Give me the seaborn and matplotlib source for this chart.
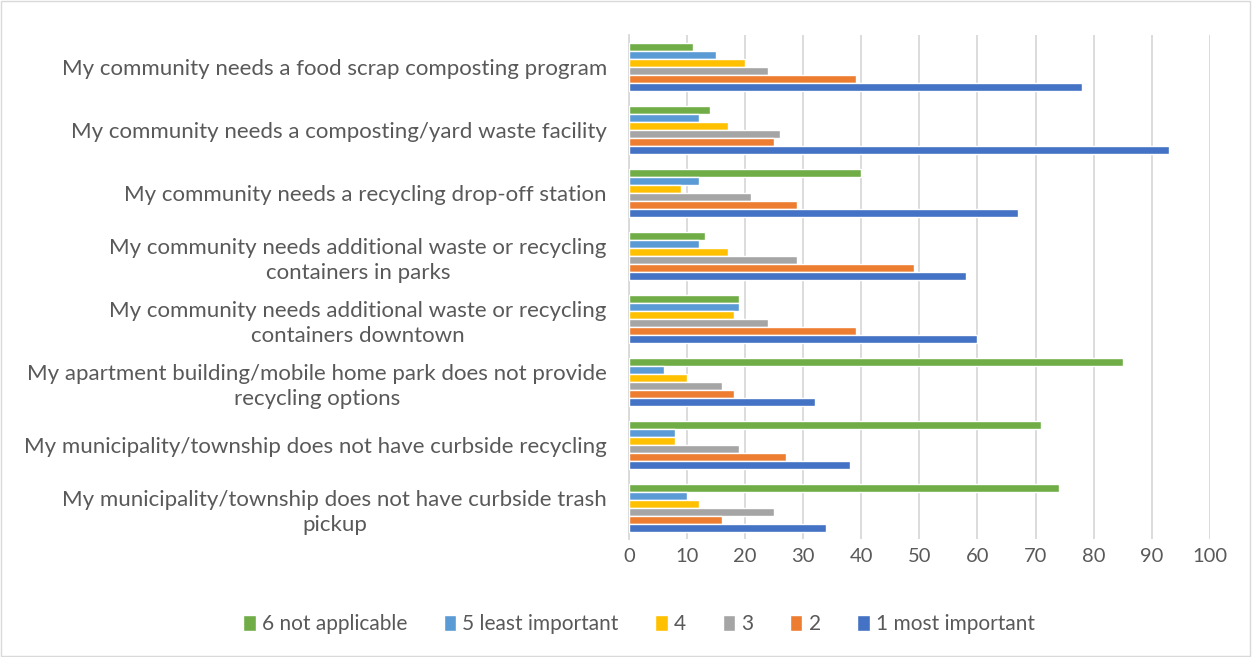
import pandas as pd, numpy as np, matplotlib
matplotlib.use('Agg')
import matplotlib.pyplot as plt
import seaborn as sns

categories = ['My community needs a food scrap composting program',
              'My community needs a composting/yard waste facility',
              'My community needs a recycling drop-off station',
              'My community needs additional waste or recycling\ncontainers in parks',
              'My community needs additional waste or recycling\ncontainers downtown',
              'My apartment building/mobile home park does not provide\nrecycling options',
              'My municipality/township does not have curbside recycling',
              'My municipality/township does not have curbside trash\npickup']
series = ['6 not applicable', '5 least important', '4', '3', '2', '1 most important']
v6 = [11, 14, 40, 13, 19, 85, 71, 74]
v5 = [15, 12, 12, 12, 19, 6, 8, 10]
v4 = [20, 17, 9, 17, 18, 10, 8, 12]
v3 = [24, 26, 21, 29, 24, 16, 19, 25]
v2 = [39, 25, 29, 49, 39, 18, 27, 16]
v1 = [78, 93, 67, 58, 60, 32, 38, 34]
colors = ['#70AD47', '#5B9BD5', '#FFC000', '#A5A5A5', '#ED7D31', '#4472C4']

rows = []
for s, vals in zip(series, [v6, v5, v4, v3, v2, v1]):
    for c, v in zip(categories, vals):
        rows.append((c, s, v))
df = pd.DataFrame(rows, columns=['cat', 'series', 'value'])

sns.set_theme(style='white')
plt.rcParams['font.family'] = ['Lato', 'DejaVu Sans']
txt = '#595959'

fig = plt.figure(figsize=(12.53, 6.57), dpi=100)
ax = fig.add_axes([0.502, 0.179, 0.4635, 0.767])
sns.barplot(data=df, y='cat', x='value', hue='series', order=categories, hue_order=series,
            palette=colors, orient='h', width=0.762, saturation=1, ax=ax, zorder=3)
ax.set_xlim(0, 100)
ax.set_xticks(range(0, 101, 10))
ax.xaxis.grid(True, color='#D9D9D9', linewidth=1.3, zorder=0)
ax.set_axisbelow(True)
for sp in ['top', 'right', 'bottom']:
    ax.spines[sp].set_visible(False)
ax.spines['left'].set_color('#D9D9D9')
ax.spines['left'].set_linewidth(1.3)
ax.set_xlabel(''); ax.set_ylabel('')
ax.tick_params(axis='x', labelsize=14.5, colors=txt, length=0, pad=6)
ax.tick_params(axis='y', labelsize=16, colors=txt, length=0, pad=16)
for t in ax.get_yticklabels():
    t.set_multialignment('center')
    t.set_linespacing(1.3)

h, l = ax.get_legend_handles_labels()
ax.get_legend().remove()
fig.legend(h, l, loc='center', bbox_to_anchor=(0.51, 0.05), ncol=6, frameon=False,
           fontsize=15, labelcolor=txt, handlelength=0.6, handleheight=0.75,
           handletextpad=0.3, columnspacing=1.75)

fig.patches.append(plt.Rectangle((0.001, 0.001), 0.997, 0.997, transform=fig.transFigure,
                                 fill=False, edgecolor='#D9D9D9', linewidth=1))
fig.savefig('out.png', dpi=100)
